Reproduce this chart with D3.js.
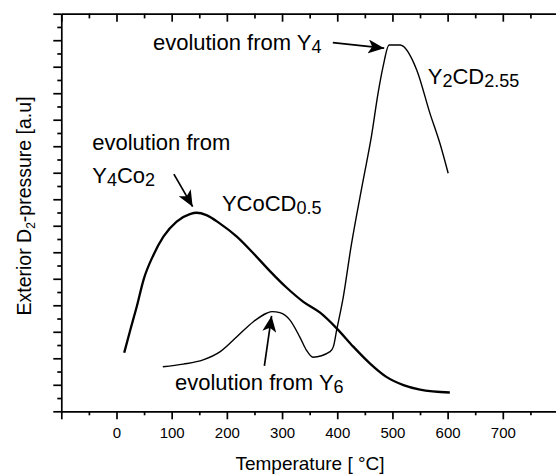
<!DOCTYPE html>
<html>
<head>
<meta charset="utf-8">
<script src="https://cdn.jsdelivr.net/npm/d3@7"></script>
<style>
  body { margin: 0; background: #fff; }
  text { font-family: "Liberation Sans", Arial, Helvetica, sans-serif; fill: #000; }
</style>
</head>
<body>
<svg id="chart" width="556" height="474"></svg>
<script>
// YCoCD0.5 curve (thick)
const tempA  = [14, 25, 37, 49, 67, 85, 109, 133, 145, 163, 187, 218, 248, 278, 308, 338, 369, 399, 429, 459, 489, 520, 550, 604];
const pressA = [2.21, 3.07, 3.97, 4.96, 5.90, 6.59, 7.16, 7.44, 7.49, 7.40, 7.09, 6.59, 5.96, 5.29, 4.67, 4.14, 3.72, 3.13, 2.44, 1.81, 1.30, 0.99, 0.82, 0.71];

// Y6 / Y4 -> Y2CD2.55 curve (thin)
const tempB  = [84, 121, 157, 188, 218, 248, 272, 282, 296, 314, 332, 344, 356, 387, 393, 399, 411, 425, 447, 462, 474, 483, 494, 514, 544, 568, 586, 601];
const pressB = [1.68, 1.78, 1.94, 2.25, 2.81, 3.38, 3.70, 3.76, 3.72, 3.45, 2.81, 2.31, 2.04, 2.25, 2.44, 3.07, 4.32, 6.21, 8.72, 10.38, 12.0, 13.0, 13.82, 13.82, 12.88, 11.24, 10.11, 8.98];

const xTicks = d3.range(-100, 801, 50);
const xLabels = [0, 100, 200, 300, 400, 500, 600, 700];
const yTicks = d3.range(0, 15.01, 0.5);

// annotations (data coords)
const arrowFrom = [[392, 13.91], [104, 8.95], [268, 1.71]];
const arrowTo   = [[485, 13.70], [138, 7.72], [281, 3.60]];
const labels = [
    { t: 66,  p: 13.52, parts: ["evolution from Y", "_4"] },
    { t: 564, p: 12.24, parts: ["Y", "_2", "CD", "_2.55"] },
    { t: -44, p: 9.75,  parts: ["evolution from"] },
    { t: -44, p: 8.50,  parts: ["Y", "_4", "Co", "_2"] },
    { t: 191, p: 7.45,  parts: ["YCoCD", "_0.5"] },
    { t: 106, p: 0.68,  parts: ["evolution from Y", "_6"] }
];

const svg = d3.select("#chart");

const x = d3.scaleLinear().domain([-100, 800]).range([61.3, 558]);
const y = d3.scaleLinear().domain([0, 15]).range([411.3, 13.7]);

// bottom axis
let gB = svg.append("g")
    .attr("transform", `translate(0,${y(0)})`)
    .call(d3.axisBottom(x).tickValues(xTicks).tickSize(8).tickSizeOuter(0)
        .tickFormat(d => xLabels.includes(d) ? d : ""));
gB.selectAll(".tick line").attr("y2", d => d % 100 === 0 ? 8 : 4);
gB.selectAll(".tick text").attr("y", 27).attr("dy", 0).style("font-size", "15px");

// top axis, ticks inside
let gT = svg.append("g")
    .attr("transform", `translate(0,${y(15)})`)
    .call(d3.axisTop(x).tickValues(xTicks).tickSize(-8).tickSizeOuter(0).tickFormat(""));
gT.selectAll(".tick line").attr("y2", d => d % 100 === 0 ? 8 : 4.7);

// left axis
let gL = svg.append("g")
    .attr("transform", `translate(${x(-100)},0)`)
    .call(d3.axisLeft(y).tickValues(yTicks).tickSize(8).tickSizeOuter(0).tickFormat(""));
gL.selectAll(".tick line").attr("x2", d => Number.isInteger(d) ? -8 : -4);

svg.selectAll(".domain, .tick line").attr("stroke", "#000").attr("stroke-width", 1.7);

// curves
const line = d3.line()
    .x(d => x(d[0]))
    .y(d => y(d[1]))
    .curve(d3.curveMonotoneX);

svg.append("path")
    .datum(tempA.map((t, i) => [t, pressA[i]]))
    .attr("fill", "none")
    .attr("stroke", "#000")
    .attr("stroke-width", 2.3)
    .attr("d", line);

svg.append("path")
    .datum(tempB.map((t, i) => [t, pressB[i]]))
    .attr("fill", "none")
    .attr("stroke", "#000")
    .attr("stroke-width", 1.4)
    .attr("stroke-linejoin", "round")
    .attr("d", line);

// arrows
svg.append("defs").append("marker")
    .attr("id", "arrow")
    .attr("markerUnits", "userSpaceOnUse")
    .attr("markerWidth", 17).attr("markerHeight", 14)
    .attr("refX", 16).attr("refY", 7)
    .attr("orient", "auto")
    .append("path")
    .attr("d", "M0,0 L16,7 L0,14 L4,7 Z")
    .attr("fill", "#000");

arrowFrom.forEach((a, i) => {
    svg.append("line")
        .attr("x1", x(a[0])).attr("y1", y(a[1]))
        .attr("x2", x(arrowTo[i][0])).attr("y2", y(arrowTo[i][1]))
        .attr("stroke", "#000")
        .attr("stroke-width", 1.7)
        .attr("marker-end", "url(#arrow)");
});

// labels
labels.forEach(l => {
    let txt = svg.append("text")
        .attr("x", x(l.t)).attr("y", y(l.p))
        .style("font-size", "22px");
    l.parts.forEach(p => {
        if (p.startsWith("_")) {
            txt.append("tspan").attr("dy", 3).style("font-size", "18px").text(p.slice(1));
        } else {
            txt.append("tspan").attr("dy", txt.selectAll("tspan").size() ? -3 : 0).text(p);
        }
    });
});

// axis titles
svg.append("text")
    .attr("x", 310).attr("y", 469.5)
    .attr("text-anchor", "middle")
    .style("font-size", "19px")
    .text("Temperature [ °C]");

let yt = svg.append("text")
    .attr("transform", "translate(30.5,206) rotate(-90)")
    .attr("text-anchor", "middle")
    .style("font-size", "19.5px");
yt.append("tspan").text("Exterior D");
yt.append("tspan").attr("dy", 4).style("font-size", "12px").text("2");
yt.append("tspan").attr("dy", -4).text("-pressure [a.u]");
</script>
</body>
</html>
